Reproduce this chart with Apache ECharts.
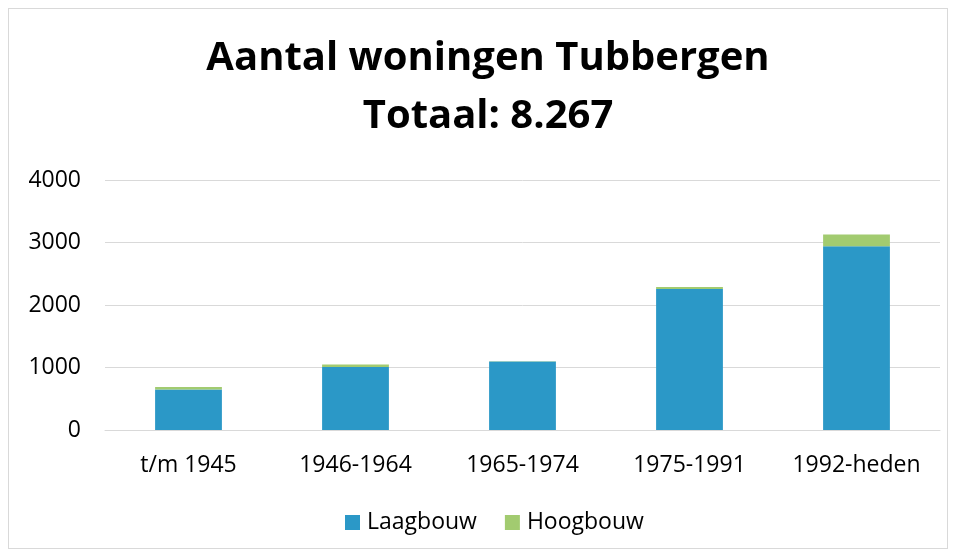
<!DOCTYPE html>
<html>
<head>
<meta charset="utf-8">
<script src="https://cdn.jsdelivr.net/npm/echarts@6/dist/echarts.min.js"></script>
<style>
  html, body { margin: 0; padding: 0; background: #fff; }
  .frame { position: absolute; left: 8px; top: 8px; width: 940px; height: 541px; border: 1px solid #d9d9d9; box-sizing: border-box; }
  #chart { width: 956px; height: 557px; }
</style>
</head>
<body>
<div class="frame"></div>
<div id="chart"></div>
<script>
  const periods = ['t/m 1945', '1946-1964', '1965-1974', '1975-1991', '1992-heden']
  const laagbouw = [650, 1010, 1095, 2255, 2940]
  const hoogbouw = [40, 40, 5, 35, 190]
  const yTicks = [0, 1000, 2000, 3000, 4000]

  const chartInstance = echarts.init(document.getElementById('chart'))
  const font = 'Open Sans, Noto Sans, sans-serif'

  const option = {
    animation: false,
    title: {
      text: 'Aantal woningen Tubbergen\nTotaal: 8.267',
      left: 483,
      top: 25,
      textAlign: 'center',
      textStyle: {
        fontFamily: font,
        fontWeight: 'bold',
        fontSize: 40,
        lineHeight: 58,
        color: '#000'
      }
    },
    grid: {
      left: 105,
      right: 16,
      top: 180,
      bottom: 127
    },
    legend: {
      bottom: 23,
      left: 345,
      padding: 0,
      itemWidth: 15,
      itemHeight: 15,
      itemGap: 28,
      icon: 'rect',
      textStyle: { fontFamily: font, fontSize: 23, color: '#000', padding: [0, 0, 0, 2] },
      data: ['Laagbouw', 'Hoogbouw']
    },
    xAxis: {
      type: 'category',
      data: periods,
      axisLine: { lineStyle: { color: '#d9d9d9', width: 1 } },
      axisTick: { show: false },
      axisLabel: { fontFamily: font, fontSize: 23, color: '#000', margin: 24 }
    },
    yAxis: {
      type: 'value',
      min: yTicks[0],
      max: yTicks[yTicks.length - 1],
      interval: 1000,
      axisLine: { show: false },
      axisTick: { show: false },
      splitLine: { lineStyle: { color: '#d9d9d9', width: 1 } },
      axisLabel: {
        fontFamily: font,
        fontSize: 23,
        color: '#000',
        margin: 24,
        formatter: (v) => String(v)
      }
    },
    series: [
      {
        name: 'Laagbouw',
        type: 'bar',
        stack: 'totaal',
        barWidth: '40%',
        itemStyle: { color: '#2B98C7' },
        data: laagbouw
      },
      {
        name: 'Hoogbouw',
        type: 'bar',
        stack: 'totaal',
        barWidth: '40%',
        itemStyle: { color: '#A2CB70' },
        data: hoogbouw
      }
    ]
  }

  chartInstance.setOption(option)
</script>
</body>
</html>
